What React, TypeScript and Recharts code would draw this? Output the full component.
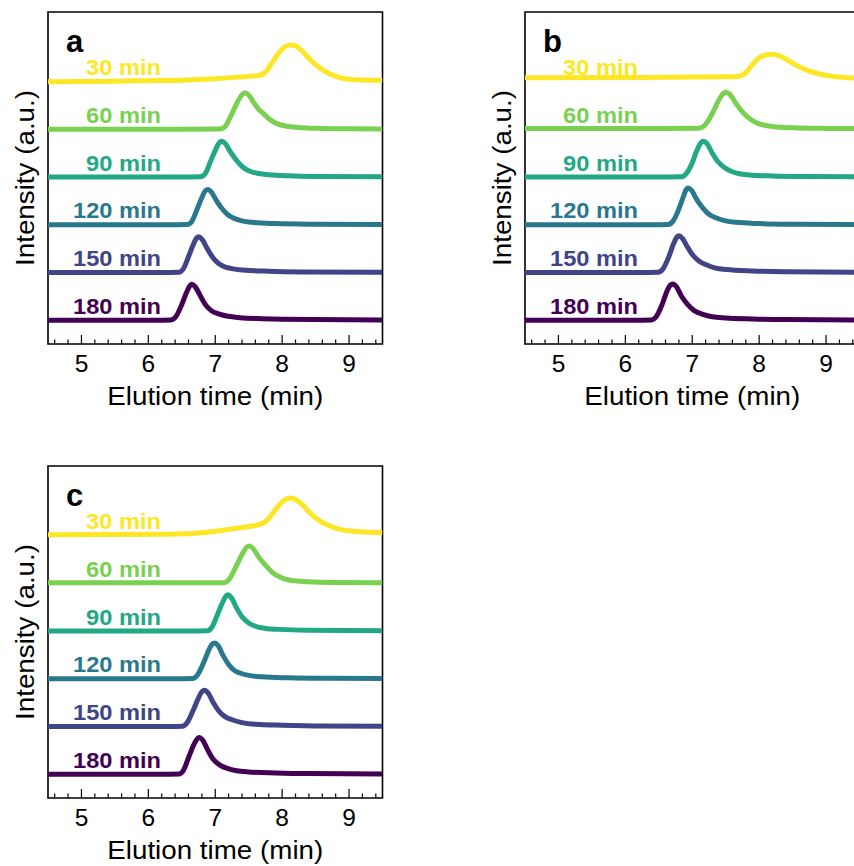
import React from 'react';
import { LineChart, Line, XAxis, YAxis, ReferenceArea, ReferenceDot } from 'recharts';

type Pt = [number, number];

const sampleLabels = ['30 min', '60 min', '90 min', '120 min', '150 min', '180 min'];
const sampleColors = ['#fde725', '#7ad151', '#22a884', '#2a788e', '#414487', '#440154'];
const traceOffsets = [5, 4, 3, 2, 1, 0];
const panelLetters = ['a', 'b', 'c'];
const majorTicks = [5, 6, 7, 8, 9];
const allTicks = [4.6, 4.8, 5, 5.2, 5.4, 5.6, 5.8, 6, 6.2, 6.4, 6.6, 6.8, 7, 7.2, 7.4, 7.6, 7.8, 8, 8.2, 8.4, 8.6, 8.8, 9, 9.2, 9.4];
const xDomain = [4.5, 9.5];
const yDomain = [-0.5, 6.46];
const labelT = 6.19;
const labelLift = 0.135;

// Panel a
const a30: Pt[] = [[4.5, 0], [5.5, 0.01], [6.0, 0.02], [6.5, 0.03], [7.0, 0.06], [7.4, 0.1], [7.65, 0.13], [7.75, 0.2], [7.85, 0.4], [7.95, 0.6], [8.05, 0.74], [8.12, 0.77], [8.2, 0.75], [8.3, 0.64], [8.42, 0.46], [8.55, 0.3], [8.7, 0.17], [8.85, 0.09], [9.0, 0.05], [9.2, 0.035], [9.5, 0.03]];
const a60: Pt[] = [[4.5, 0], [6.5, 0], [7.06, 0.005], [7.14, 0.05], [7.25, 0.33], [7.35, 0.62], [7.41, 0.74], [7.45, 0.76], [7.5, 0.72], [7.58, 0.55], [7.65, 0.42], [7.72, 0.33], [7.82, 0.2], [7.92, 0.12], [8.05, 0.07], [8.25, 0.04], [8.6, 0.02], [9.0, 0.01], [9.5, 0.005]];
const a90: Pt[] = [[4.5, 0], [6.5, 0], [6.78, 0.005], [6.85, 0.07], [6.93, 0.33], [7.0, 0.56], [7.06, 0.72], [7.1, 0.75], [7.15, 0.7], [7.23, 0.52], [7.33, 0.33], [7.42, 0.2], [7.52, 0.12], [7.65, 0.075], [7.8, 0.05], [8.1, 0.025], [8.5, 0.012], [9.5, 0.005]];
const a120: Pt[] = [[4.5, 0], [6.3, 0], [6.58, 0.005], [6.65, 0.07], [6.73, 0.33], [6.8, 0.57], [6.85, 0.71], [6.89, 0.74], [6.94, 0.69], [7.02, 0.5], [7.1, 0.34], [7.18, 0.22], [7.27, 0.14], [7.4, 0.08], [7.55, 0.05], [7.9, 0.025], [8.4, 0.012], [9.5, 0.005]];
const a150: Pt[] = [[4.5, 0], [6.2, 0], [6.46, 0.005], [6.52, 0.07], [6.6, 0.33], [6.67, 0.58], [6.72, 0.72], [6.75, 0.75], [6.8, 0.7], [6.88, 0.5], [6.95, 0.34], [7.03, 0.21], [7.12, 0.13], [7.25, 0.08], [7.42, 0.05], [7.8, 0.025], [8.3, 0.012], [9.5, 0.005]];
const a180: Pt[] = [[4.5, 0], [6.1, 0], [6.34, 0.005], [6.41, 0.07], [6.5, 0.33], [6.57, 0.58], [6.62, 0.72], [6.65, 0.75], [6.7, 0.7], [6.78, 0.5], [6.85, 0.33], [6.94, 0.2], [7.05, 0.13], [7.2, 0.08], [7.37, 0.05], [7.7, 0.03], [8.0, 0.02], [9.5, 0.005]];

// Panel b
const b30: Pt[] = [[4.5, 0.08], [6.0, 0.085], [6.5, 0.09], [7.0, 0.095], [7.5, 0.1], [7.68, 0.11], [7.78, 0.16], [7.9, 0.36], [8.0, 0.5], [8.1, 0.56], [8.2, 0.575], [8.3, 0.54], [8.45, 0.43], [8.6, 0.31], [8.75, 0.22], [8.9, 0.16], [9.1, 0.11], [9.3, 0.085], [9.5, 0.075]];
const b60: Pt[] = [[4.5, 0.02], [6.5, 0.02], [7.11, 0.025], [7.19, 0.09], [7.31, 0.36], [7.4, 0.62], [7.47, 0.76], [7.51, 0.78], [7.56, 0.74], [7.65, 0.55], [7.76, 0.35], [7.86, 0.22], [7.96, 0.14], [8.1, 0.08], [8.25, 0.05], [8.6, 0.03], [9.0, 0.02], [9.5, 0.015]];
const b90: Pt[] = [[4.5, 0], [6.5, 0], [6.84, 0.005], [6.91, 0.07], [7.0, 0.3], [7.07, 0.56], [7.13, 0.72], [7.17, 0.75], [7.22, 0.7], [7.3, 0.5], [7.38, 0.33], [7.48, 0.2], [7.58, 0.12], [7.7, 0.07], [7.86, 0.045], [8.2, 0.022], [8.7, 0.01], [9.5, 0.005]];
const b120: Pt[] = [[4.5, 0], [6.4, 0], [6.64, 0.005], [6.71, 0.07], [6.8, 0.33], [6.87, 0.6], [6.91, 0.74], [6.94, 0.77], [6.99, 0.72], [7.07, 0.52], [7.16, 0.35], [7.25, 0.22], [7.36, 0.14], [7.5, 0.08], [7.65, 0.05], [8.0, 0.025], [8.5, 0.012], [9.5, 0.005]];
const b150: Pt[] = [[4.5, 0], [6.2, 0], [6.49, 0.005], [6.56, 0.07], [6.65, 0.33], [6.72, 0.6], [6.77, 0.74], [6.8, 0.77], [6.85, 0.72], [6.93, 0.53], [7.01, 0.36], [7.1, 0.24], [7.21, 0.16], [7.35, 0.09], [7.51, 0.06], [7.9, 0.03], [8.4, 0.015], [9.5, 0.005]];
const b180: Pt[] = [[4.5, 0], [6.1, 0], [6.39, 0.005], [6.46, 0.07], [6.55, 0.33], [6.62, 0.6], [6.67, 0.73], [6.71, 0.76], [6.76, 0.71], [6.84, 0.5], [6.93, 0.33], [7.03, 0.2], [7.16, 0.12], [7.3, 0.07], [7.5, 0.045], [7.9, 0.025], [8.4, 0.012], [9.5, 0.005]];

// Panel c
const c30: Pt[] = [[4.5, 0.02], [5.5, 0.022], [6.3, 0.03], [6.8, 0.06], [7.2, 0.13], [7.5, 0.19], [7.68, 0.24], [7.78, 0.33], [7.88, 0.51], [7.98, 0.68], [8.06, 0.77], [8.12, 0.79], [8.2, 0.76], [8.3, 0.65], [8.42, 0.47], [8.55, 0.32], [8.67, 0.23], [8.8, 0.16], [8.95, 0.11], [9.15, 0.08], [9.5, 0.065]];
const c60: Pt[] = [[4.5, 0.01], [6.5, 0.01], [7.13, 0.015], [7.21, 0.09], [7.32, 0.38], [7.41, 0.63], [7.47, 0.76], [7.51, 0.785], [7.56, 0.74], [7.65, 0.55], [7.77, 0.35], [7.87, 0.21], [7.97, 0.13], [8.1, 0.07], [8.3, 0.04], [8.7, 0.02], [9.5, 0.01]];
const c90: Pt[] = [[4.5, 0], [6.6, 0], [6.88, 0.005], [6.95, 0.08], [7.04, 0.37], [7.11, 0.6], [7.16, 0.73], [7.19, 0.76], [7.24, 0.7], [7.32, 0.48], [7.4, 0.3], [7.5, 0.17], [7.6, 0.1], [7.75, 0.055], [7.95, 0.035], [8.4, 0.015], [9.5, 0.005]];
const c120: Pt[] = [[4.5, 0], [6.4, 0], [6.66, 0.005], [6.73, 0.07], [6.83, 0.35], [6.9, 0.59], [6.95, 0.72], [6.99, 0.75], [7.04, 0.7], [7.12, 0.48], [7.2, 0.3], [7.28, 0.18], [7.37, 0.12], [7.5, 0.07], [7.7, 0.04], [8.1, 0.02], [8.6, 0.01], [9.5, 0.005]];
const c150: Pt[] = [[4.5, 0], [6.3, 0], [6.51, 0.005], [6.58, 0.08], [6.68, 0.37], [6.75, 0.6], [6.8, 0.73], [6.84, 0.76], [6.89, 0.71], [6.97, 0.5], [7.05, 0.33], [7.15, 0.2], [7.25, 0.14], [7.4, 0.08], [7.6, 0.045], [8.0, 0.025], [8.5, 0.012], [9.5, 0.005]];
const c180: Pt[] = [[4.5, 0], [6.2, 0], [6.46, 0.005], [6.52, 0.07], [6.61, 0.38], [6.68, 0.62], [6.73, 0.74], [6.76, 0.77], [6.81, 0.72], [6.89, 0.5], [6.97, 0.31], [7.07, 0.19], [7.18, 0.12], [7.32, 0.07], [7.5, 0.045], [7.9, 0.025], [8.4, 0.012], [9.5, 0.005]];

const panelA = [a30, a60, a90, a120, a150, a180];
const panelB = [b30, b60, b90, b120, b150, b180];
const panelC = [c30, c60, c90, c120, c150, c180];

const FONT = '"Liberation Sans", Arial, Helvetica, sans-serif';

const XTick = (props: any) => {
  const { x, y, payload } = props;
  const v = payload.value;
  const r = Math.round(v);
  const major = Math.abs(v - r) < 1e-6 && majorTicks.includes(r);
  return (
    <g>
      <line x1={x} x2={x} y1={y} y2={y - (major ? 9 : 4.5)} stroke="#000" strokeWidth={1.2} />
      {major && (
        <text x={x} y={y + 27.5} textAnchor="middle" fontFamily={FONT} fontSize={24.5} fill="#000">
          {r}
        </text>
      )}
    </g>
  );
};

const Panel = ({ series, letter }: { series: Pt[][]; letter: string }) => {
  return (
    <LineChart width={400} height={420} margin={{ top: 12, right: 17.5, bottom: 6, left: 0 }}>
      <XAxis
        dataKey="t"
        type="number"
        domain={xDomain}
        allowDataOverflow
        ticks={allTicks}
        interval={0}
        height={70}
        tickSize={0}
        tickMargin={0}
        tickLine={false}
        axisLine={false}
        tick={<XTick />}
        label={{
          content: (p: any) => {
            const vb = p.viewBox;
            return (
              <text x={vb.x + vb.width / 2} y={vb.y + 61} textAnchor="middle" fontFamily={FONT} fontSize={26} textLength={216} lengthAdjust="spacingAndGlyphs" fill="#000">
                Elution time (min)
              </text>
            );
          },
        }}
      />
      <YAxis
        type="number"
        domain={yDomain}
        allowDataOverflow
        width={48}
        tick={false}
        tickLine={false}
        axisLine={false}
        label={{
          content: (p: any) => {
            const vb = p.viewBox;
            const cx = 34;
            const cy = vb.y + vb.height / 2;
            return (
              <text x={cx} y={cy} transform={`rotate(-90 ${cx} ${cy})`} textAnchor="middle" fontFamily={FONT} fontSize={26} textLength={176} lengthAdjust="spacingAndGlyphs" fill="#000">
                Intensity (a.u.)
              </text>
            );
          },
        }}
      />
      <ReferenceArea x1={xDomain[0]} x2={xDomain[1]} y1={yDomain[0]} y2={yDomain[1]} fill="none" fillOpacity={0} stroke="#000" strokeWidth={1.6} ifOverflow="visible" />
      {series.map((pts, i) => (
        <Line
          key={sampleLabels[i]}
          data={pts.map(([t, v]) => ({ t, y: v + traceOffsets[i] }))}
          dataKey="y"
          type="monotone"
          stroke={sampleColors[i]}
          strokeWidth={5}
          dot={false}
          activeDot={false}
          isAnimationActive={false}
        />
      ))}
      {series.map((_, i) => (
        <ReferenceDot
          key={'lbl' + i}
          x={labelT}
          y={traceOffsets[i] + labelLift}
          r={0}
          ifOverflow="visible"
          shape={(p: any) => (
            <text
              x={p.cx}
              y={p.cy}
              textAnchor="end"
              fontFamily={FONT}
              fontWeight="bold"
              fontSize={22.5}
              textLength={sampleLabels[i].length > 6 ? 88 : 75}
              lengthAdjust="spacingAndGlyphs"
              fill={sampleColors[i]}
            >
              {sampleLabels[i]}
            </text>
          )}
        />
      ))}
      <ReferenceDot
        x={xDomain[0]}
        y={yDomain[1]}
        r={0}
        ifOverflow="visible"
        shape={(p: any) => (
          <text x={p.cx + 18} y={p.cy + 40} fontFamily={FONT} fontWeight="bold" fontSize={31} fill="#000">
            {letter}
          </text>
        )}
      />
    </LineChart>
  );
};

export default function App() {
  return (
    <div style={{ position: 'absolute', left: 0, top: 0, width: 854, height: 866, overflow: 'hidden', background: '#fff' }}>
      <div style={{ position: 'absolute', left: 0, top: 0 }}>
        <Panel series={panelA} letter={panelLetters[0]} />
      </div>
      <div style={{ position: 'absolute', left: 477, top: 0 }}>
        <Panel series={panelB} letter={panelLetters[1]} />
      </div>
      <div style={{ position: 'absolute', left: 0, top: 454 }}>
        <Panel series={panelC} letter={panelLetters[2]} />
      </div>
    </div>
  );
}
